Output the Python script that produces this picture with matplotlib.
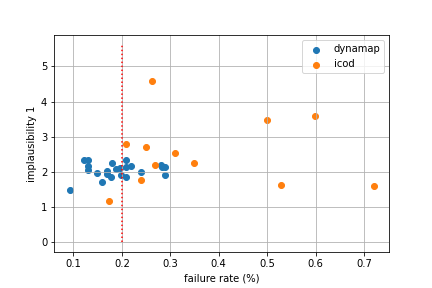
import matplotlib
matplotlib.use("Agg")
import matplotlib.pyplot as plt

dynamap_x = [0.092, 0.121, 0.130, 0.130, 0.130, 0.149, 0.160, 0.180, 0.170, 0.170,
             0.178, 0.189, 0.196, 0.198, 0.209, 0.209, 0.209, 0.218, 0.240, 0.280,
             0.283, 0.290, 0.290]
dynamap_y = [1.49, 2.33, 2.33, 2.18, 2.06, 1.97, 1.71, 2.25, 2.04, 1.93,
             1.87, 2.09, 2.11, 1.90, 2.35, 2.14, 1.87, 2.18, 2.01, 2.21,
             2.14, 2.14, 1.90]

icod_x = [0.209, 0.2505, 0.262, 0.310, 0.349, 0.269, 0.240, 0.174, 0.500, 0.599, 0.529, 0.721]
icod_y = [2.80, 2.71, 4.59, 2.54, 2.26, 2.21, 1.78, 1.18, 3.48, 3.59, 1.64, 1.59]

threshold = 0.2
line_y = [0, 5.6]

fig = plt.figure(figsize=(6, 4), dpi=72)
ax = fig.add_axes([0.1257, 0.124, 0.7755, 0.7535])
ax.scatter(dynamap_x, dynamap_y, label="dynamap")
ax.scatter(icod_x, icod_y, label="icod")
ax.plot([threshold, threshold], line_y, 'r:')
ax.grid(True)
ax.set_xlabel("failure rate (%)")
ax.set_ylabel("implausibility 1")
ax.legend(loc="upper right")
fig.savefig("out.png", dpi=72)
